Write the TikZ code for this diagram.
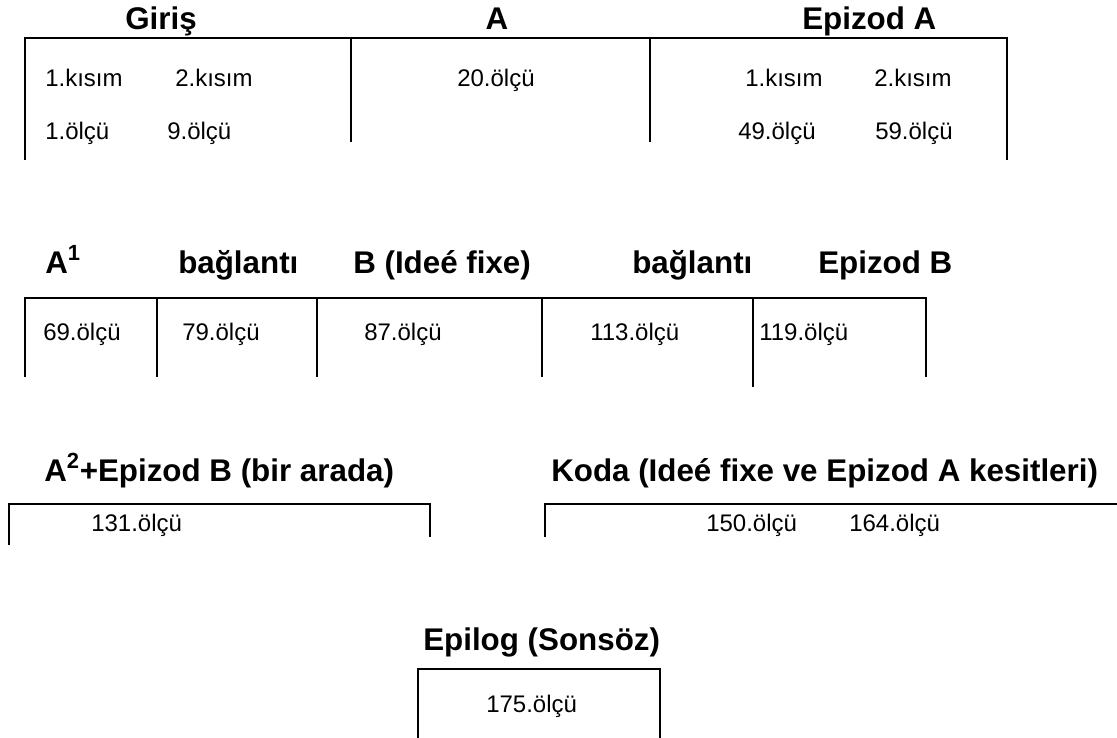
\documentclass[tikz,border=0pt]{standalone}
\usepackage{fontspec}
\setmainfont{Liberation Sans}
\begin{document}
\begin{tikzpicture}[x=0.75pt,y=-0.75pt,
  ttl/.style={font=\fontsize{23.5}{28}\selectfont\bfseries, inner sep=0pt, anchor=base west},
  lbl/.style={font=\fontsize{18}{21}\selectfont, inner sep=0pt, anchor=base west},
  bar/.style={line width=1.2pt}]
\useasboundingbox (0,0) rectangle (1117,738);
% Row 1
\draw[bar] (25,160) -- (25,38) -- (1007,38) -- (1007,160);
\draw[bar] (351,38) -- (351,142);
\draw[bar] (650,38) -- (650,142);
\node[ttl] (giris) at (125,30) {Giriş};
\node[ttl, anchor=base] (a) at (497,30) {A};
\node[ttl] (epa) at (802,30) {Epizod A};
\node[lbl] (k1) at (45,87) {1.kısım};
\node[lbl] (k2) at (175,87) {2.kısım};
\node[lbl] (o1) at (45,140) {1.ölçü};
\node[lbl] (o9) at (167,140) {9.ölçü};
\node[lbl] (o20) at (457,87) {20.ölçü};
\node[lbl] (k3) at (745,87) {1.kısım};
\node[lbl] (k4) at (874,87) {2.kısım};
\node[lbl] (o49) at (738,140) {49.ölçü};
\node[lbl] (o59) at (875,140) {59.ölçü};
% Row 2
\draw[bar] (25,377) -- (25,298) -- (926,298) -- (926,377);
\draw[bar] (157,298) -- (157,377);
\draw[bar] (317,298) -- (317,377);
\draw[bar] (542,298) -- (542,377);
\draw[bar] (753,298) -- (753,387);
\node[ttl] (a1) at (45,273) {A\textsuperscript{1}};
\node[ttl] (bag1) at (178,273) {bağlantı};
\node[ttl] (bif) at (353,273) {B (Ideé fixe)};
\node[ttl] (bag2) at (632,273) {bağlantı};
\node[ttl] (epb) at (818,273) {Epizod B};
\node[lbl] (o69) at (43,340) {69.ölçü};
\node[lbl] (o79) at (182,340) {79.ölçü};
\node[lbl] (o87) at (364,340) {87.ölçü};
\node[lbl] (o113) at (590,340) {113.ölçü};
\node[lbl] (o119) at (759,340) {119.ölçü};
% Row 3
\draw[bar] (9,545) -- (9,504) -- (430,504) -- (430,537);
\draw[bar] (545,537) -- (545,504) -- (1117,504);
\node[ttl] (a2) at (44,481) {A\textsuperscript{2}+Epizod B (bir arada)};
\node[ttl] (koda) at (551,481) {Koda (Ideé fixe ve Epizod A kesitleri)};
\node[lbl] (o131) at (91,531) {131.ölçü};
\node[lbl] (o150) at (706,531) {150.ölçü};
\node[lbl] (o164) at (849,531) {164.ölçü};
% Row 4
\draw[bar] (418,738) -- (418,669) -- (660,669) -- (660,738);
\node[ttl] (epi) at (423,650) {Epilog (Sonsöz)};
\node[lbl] (o175) at (486,712) {175.ölçü};
\end{tikzpicture}
\end{document}
